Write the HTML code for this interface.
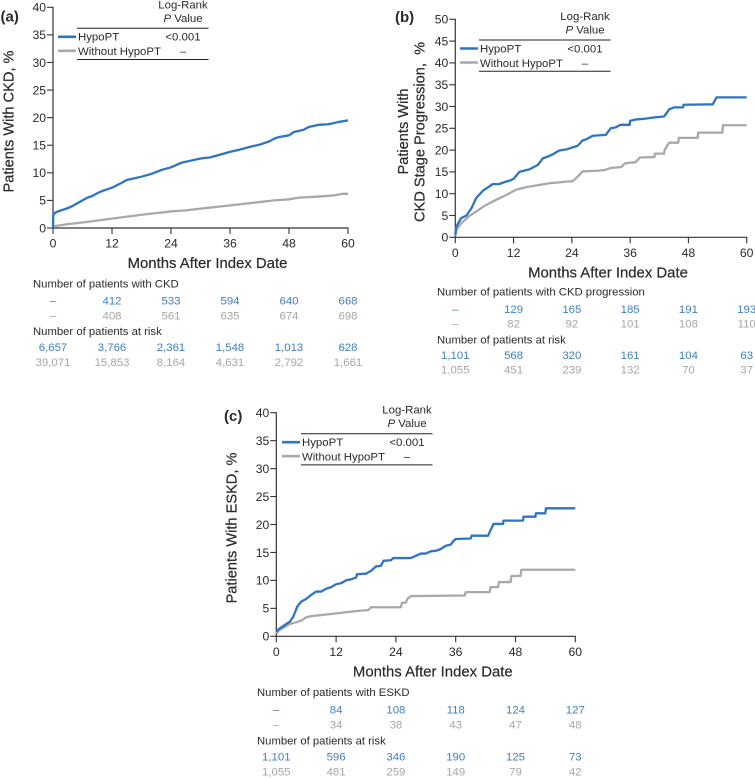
<!DOCTYPE html>
<html>
<head>
<meta charset="utf-8">
<title>Cumulative incidence charts</title>
<style>
html,body{margin:0;padding:0;background:#fff;overflow:hidden;}
svg{display:block;}
text{font-family:"Liberation Sans",sans-serif;fill:#2a2a2a;}
</style>
</head>
<body>
<svg id="figure" xmlns="http://www.w3.org/2000/svg" width="755" height="779" viewBox="0 0 755 779"></svg>
<script>
var xTickLabels = [0, 12, 24, 36, 48, 60];
var yTicksA = [0, 5, 10, 15, 20, 25, 30, 35, 40];
var yTicksB = [0, 5, 10, 15, 20, 25, 30, 35, 40, 45, 50];
var yTicksC = [0, 5, 10, 15, 20, 25, 30, 35, 40];

var aHypoMonths = [0,0.05,0.5,1,2,3,4,5,6,7,8,9,10,12,14,15,16,18,20,22,24,26,28,30,32,34,36,38,40,42,44,45,46,48,49,51,52,54,56,58,60];
var aHypoValues = [0,2.4,2.8,3,3.3,3.6,4,4.5,5,5.5,5.8,6.3,6.7,7.3,8.2,8.7,8.9,9.3,9.8,10.5,11,11.8,12.2,12.6,12.8,13.3,13.8,14.2,14.7,15.1,15.7,16.2,16.5,16.8,17.4,17.8,18.3,18.7,18.8,19.2,19.5];
var aOtherMonths = [0,3,6,12,18,24,27,30,36,42,45,48,50,54,57,59,60];
var aOtherValues = [0.3,0.7,1,1.7,2.4,3,3.2,3.5,4.1,4.7,5,5.2,5.5,5.7,5.9,6.2,6.2];

var bHypoMonths = [0,0.2,1.2,2.3,3.3,4.3,5.7,7.7,9,10.5,11,12,13.2,15.3,17,18,19,20,21.4,23,25.2,26.2,27,28.3,31,32,33,34,35.9,36,37,39,41,43,43.5,44,45,46.9,47,53,53.8,60];
var bHypoValues = [0.5,2.4,4.4,5,6.6,9,10.7,12.2,12.2,12.8,12.9,13.4,15,15.6,16.6,18.1,18.5,19,19.9,20.2,21,22.2,22.5,23.3,23.5,25,25.2,25.8,25.8,26.7,27,27.2,27.5,27.7,28.5,29.3,29.8,29.8,30.4,30.5,32.1,32.1];
var bOtherMonths = [0,0.2,1.2,2.9,4.3,6,8.4,10.5,12.5,14.6,19.4,24.2,25.2,26.2,29.7,31,32,34,34.1,35,37,37.1,38,41,41.1,43,43.1,44,45.9,46,49.9,50,55,55.1,60];
var bOtherValues = [0.3,1.7,3.2,4.9,5.9,7.2,8.6,9.7,10.9,11.5,12.4,12.9,13.9,15.1,15.3,15.5,15.9,16.1,16.1,17,17.2,17.2,18.3,18.4,19.2,19.2,20,21.7,21.7,22.8,22.8,24,24,25.7,25.7];

var cHypoMonths = [0,0.5,1,2,2.7,3.4,4.2,5,6,7,8,9,10,11,12,13,14,15,16,16.2,18,19,20,21,21.5,23,23.5,27,28,29,30,31,32,33,34,35,35.5,36,39,39.2,42.5,43,43.6,45.5,45.6,49.5,49.6,52,52.1,54,54.1,60];
var cHypoValues = [0.8,1.3,1.6,2.2,2.6,3.5,5.3,6.2,6.7,7.4,8,8,8.5,8.8,9.3,9.5,10,10.2,10.5,11.1,11.2,11.7,12.5,12.6,13.5,13.6,14,14,14.4,14.8,14.8,15.2,15.3,15.6,16.2,16.4,17,17.4,17.5,18,18,19,20.1,20.1,20.7,20.7,21.4,21.4,22,22,22.9,22.9];
var cOtherMonths = [0,0.5,1,2,2.7,4,5,6,7,9,12,14,16,18.5,19,25,25.2,26,26.3,27,37.8,38,42.8,43,44.5,44.7,47,47.2,49,49.2,60];
var cOtherValues = [0.5,1,1.3,1.8,2.2,2.5,2.8,3.4,3.6,3.8,4.1,4.3,4.5,4.7,5.2,5.2,6,6,6.7,7.2,7.3,7.9,7.9,8.8,8.8,9.7,9.7,10.8,10.8,11.9,11.9];

var aEventsHypo = ['–','412','533','594','640','668'];
var aEventsOther = ['–','408','561','635','674','698'];
var aRiskHypo = ['6,657','3,766','2,361','1,548','1,013','628'];
var aRiskOther = ['39,071','15,853','8,164','4,631','2,792','1,661'];
var bEventsHypo = ['–','129','165','185','191','193'];
var bEventsOther = ['–','82','92','101','108','110'];
var bRiskHypo = ['1,101','568','320','161','104','63'];
var bRiskOther = ['1,055','451','239','132','70','37'];
var cEventsHypo = ['–','84','108','118','124','127'];
var cEventsOther = ['–','34','38','43','47','48'];
var cRiskHypo = ['1,101','596','346','190','125','73'];
var cRiskOther = ['1,055','481','259','149','79','42'];

var NS = 'http://www.w3.org/2000/svg';
var BLUE = '#2f74c0', GREY = '#a9a9a9', TBLUE = '#3f7fc6', TGREY = '#a6a6a6', AXIS = '#333';
var root = document.getElementById('figure');

function el(tag, attrs, parent, content) {
  var n = document.createElementNS(NS, tag);
  for (var k in attrs) n.setAttribute(k, attrs[k]);
  if (content !== undefined) n.textContent = content;
  (parent || root).appendChild(n);
  return n;
}

function drawSeries(g, months, values, sx, sy, color, name) {
  var pts = months.map(function (m, i) { return sx(m).toFixed(2) + ',' + sy(values[i]).toFixed(2); }).join(' ');
  var line = el('polyline', {points: pts, fill: 'none', stroke: color, 'stroke-width': 2.3, 'stroke-linejoin': 'round'}, g);
  
  
}

function drawRow(g, values, sx, y, color, name) {
  values.forEach(function (v, i) {
    var t = el('text', {x: sx(xTickLabels[i]), y: y, 'text-anchor': 'middle', 'font-size': 11.4, style: 'fill:' + color}, g, v);
    
    
  });
}

function drawPanel(p) {
  var g = el('g', {}, root);
  
  
  var yMax = p.yTicks[p.yTicks.length - 1];
  var sx = function (m) { return p.x0 + m / 60 * (p.x1 - p.x0); };
  var sy = function (v) { return p.y0 - v / yMax * (p.y0 - p.yTop); };

  var label = el('text', {x: p.labelX, y: p.labelY, 'font-size': 15, 'font-weight': 'bold'}, g, '(' + p.id + ')');
  
  

  var yAxis = el('line', {x1: p.x0, x2: p.x0, y1: p.yTop - 0.5, y2: p.y0 + 0.5, stroke: AXIS, 'stroke-width': 1.2}, g);
  
  
  var xAxis = el('line', {x1: p.x0, x2: p.x1 + 0.5, y1: p.y0, y2: p.y0, stroke: AXIS, 'stroke-width': 1.2}, g);
  
  

  p.yTicks.forEach(function (v) {
    var tick = el('line', {x1: p.x0 - 6, x2: p.x0, y1: sy(v), y2: sy(v), stroke: AXIS, 'stroke-width': 1.1}, g);
    
    
    var t = el('text', {x: p.x0 - 7, y: sy(v) + 4.3, 'text-anchor': 'end', 'font-size': 12.2}, g, v);
    
    
  });
  xTickLabels.forEach(function (v) {
    var tick = el('line', {x1: sx(v), x2: sx(v), y1: p.y0, y2: p.y0 + 6, stroke: AXIS, 'stroke-width': 1.1}, g);
    
    
    var t = el('text', {x: sx(v), y: p.y0 + 19.5, 'text-anchor': 'middle', 'font-size': 12.2}, g, v);
    
    
  });

  var xt = el('text', {x: (p.x0 + p.x1) / 2 + 7, y: p.y0 + 40, 'text-anchor': 'middle', 'font-size': 14.9, stroke: '#2a2a2a', 'stroke-width': 0.2}, g, 'Months After Index Date');
  
  

  p.yTitle.forEach(function (yt) {
    var t = el('text', {transform: 'translate(' + yt.x + ',' + yt.y + ') rotate(-90)', 'text-anchor': 'middle', 'font-size': 14.6, stroke: '#2a2a2a', 'stroke-width': 0.2, style: 'white-space:pre'}, g, yt.text);
    
    
  });

  drawSeries(g, p.otherMonths, p.otherValues, sx, sy, GREY, 'without-hypopt-line');
  drawSeries(g, p.hypoMonths, p.hypoValues, sx, sy, BLUE, 'hypopt-line');

  // legend
  var lx = p.legendX, ly = p.legendY;
  var lg = el('g', {}, g);
  
  
  var head1 = el('text', {x: lx + 106, y: ly - 20, 'text-anchor': 'middle', 'font-size': 11.4}, lg, 'Log-Rank');
  
  
  var head2 = el('text', {x: lx + 106, y: ly - 6.5, 'text-anchor': 'middle', 'font-size': 11.4}, lg);
  
  
  el('tspan', {'font-style': 'italic'}, head2, 'P');
  el('tspan', {}, head2, ' Value');
  [0, 31.2].forEach(function (off) {
    var r = el('line', {x1: lx, x2: lx + 131.5, y1: ly + off, y2: ly + off, stroke: '#222', 'stroke-width': 1}, lg);
    
    
  });
  var sw1 = el('line', {x1: lx - 19, x2: lx - 1, y1: ly + 8.5, y2: ly + 8.5, stroke: BLUE, 'stroke-width': 2.6}, lg);
  
  
  var sw2 = el('line', {x1: lx - 19, x2: lx - 1, y1: ly + 22.5, y2: ly + 22.5, stroke: GREY, 'stroke-width': 2.6}, lg);
  
  
  var l1 = el('text', {x: lx + 1, y: ly + 12.3, 'font-size': 11.4}, lg, 'HypoPT');
  
  
  var l2 = el('text', {x: lx + 1, y: ly + 26.8, 'font-size': 11.4}, lg, 'Without HypoPT');
  
  
  var p1 = el('text', {x: lx + 106, y: ly + 12.3, 'text-anchor': 'middle', 'font-size': 11.4}, lg, '<0.001');
  
  
  var p2 = el('text', {x: lx + 106, y: ly + 26.8, 'text-anchor': 'middle', 'font-size': 11.4}, lg, '–');
  
  

  // at-risk table
  var tb = el('g', {}, g);
  
  
  var h1 = el('text', {x: p.tableX, y: p.rows[0], 'font-size': 11.3}, tb, p.eventHeader);
  
  
  drawRow(tb, p.eventsHypo, sx, p.rows[1], TBLUE, 'events-hypopt-count');
  drawRow(tb, p.eventsOther, sx, p.rows[2], TGREY, 'events-without-hypopt-count');
  var h2 = el('text', {x: p.tableX, y: p.rows[3], 'font-size': 11.3}, tb, 'Number of patients at risk');
  
  
  drawRow(tb, p.riskHypo, sx, p.rows[4], TBLUE, 'at-risk-hypopt-count');
  drawRow(tb, p.riskOther, sx, p.rows[5], TGREY, 'at-risk-without-hypopt-count');
}

drawPanel({
  id: 'a', x0: 53, x1: 348, y0: 228, yTop: 7.3, yTicks: yTicksA,
  labelX: 0.5, labelY: 21.5,
  yTitle: [{x: 13.5, y: 121.5, text: 'Patients With CKD, %'}],
  legendX: 77, legendY: 28.3,
  hypoMonths: aHypoMonths, hypoValues: aHypoValues, otherMonths: aOtherMonths, otherValues: aOtherValues,
  tableX: 33, rows: [287.5, 304.5, 319.5, 335, 351, 366],
  eventHeader: 'Number of patients with CKD',
  eventsHypo: aEventsHypo, eventsOther: aEventsOther, riskHypo: aRiskHypo, riskOther: aRiskOther
});
drawPanel({
  id: 'b', x0: 455.3, x1: 746.7, y0: 237.3, yTop: 19.3, yTicks: yTicksB,
  labelX: 395, labelY: 22,
  yTitle: [{x: 408, y: 131.5, text: 'Patients With'}, {x: 424.5, y: 132, text: 'CKD Stage Progression,  %'}],
  legendX: 479, legendY: 40,
  hypoMonths: bHypoMonths, hypoValues: bHypoValues, otherMonths: bOtherMonths, otherValues: bOtherValues,
  tableX: 437, rows: [295.5, 312.8, 327.3, 343.3, 359, 373.5],
  eventHeader: 'Number of patients with CKD progression',
  eventsHypo: bEventsHypo, eventsOther: bEventsOther, riskHypo: bRiskHypo, riskOther: bRiskOther
});
drawPanel({
  id: 'c', x0: 276.3, x1: 575.3, y0: 636.3, yTop: 412.7, yTicks: yTicksC,
  labelX: 224, labelY: 421,
  yTitle: [{x: 236.5, y: 528, text: 'Patients With ESKD, %'}],
  legendX: 301, legendY: 433.7,
  hypoMonths: cHypoMonths, hypoValues: cHypoValues, otherMonths: cOtherMonths, otherValues: cOtherValues,
  tableX: 257, rows: [696, 713.5, 728.5, 744.5, 760.5, 775.5],
  eventHeader: 'Number of patients with ESKD',
  eventsHypo: cEventsHypo, eventsOther: cEventsOther, riskHypo: cRiskHypo, riskOther: cRiskOther
});
</script>
</body>
</html>
